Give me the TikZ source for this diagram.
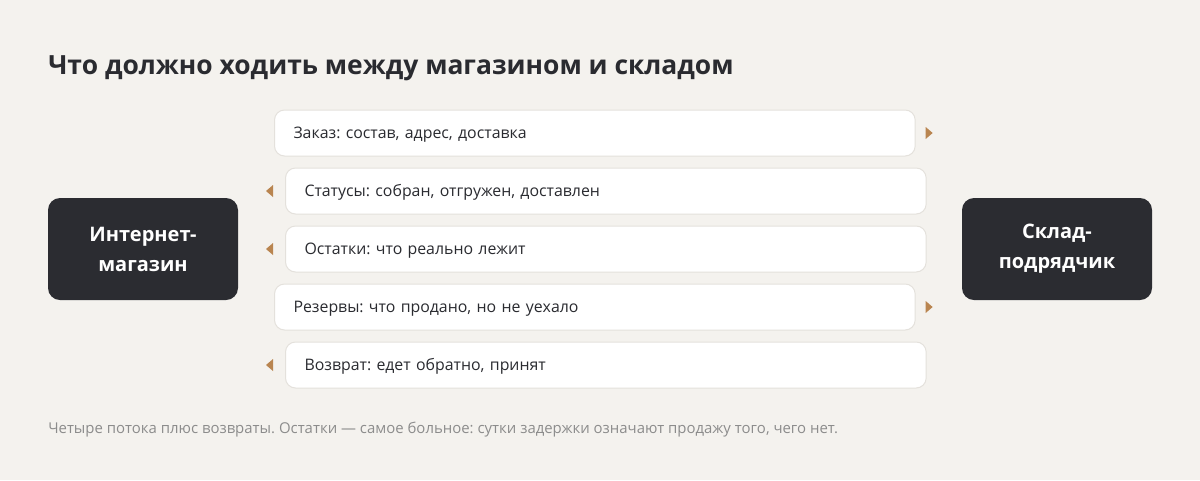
\documentclass[tikz,border=0pt]{standalone}
\usepackage{fontspec}
\setmainfont{Open Sans}
\usetikzlibrary{calc}
\definecolor{bgc}{HTML}{F4F2EE}
\definecolor{darkc}{HTML}{2B2C31}
\definecolor{textc}{HTML}{2A2B30}
\definecolor{linec}{HTML}{E4E1DC}
\definecolor{arrowc}{HTML}{B98550}
\definecolor{notec}{HTML}{8C8C8C}
\tikzset{
  party/.style={draw=none, fill=darkc, rounded corners=9pt, minimum width=142.5pt, minimum height=76.5pt, align=center, text=white, font=\fontsize{15}{22.5}\selectfont\bfseries, inner sep=0pt},
  flow/.style={draw=linec, line width=0.75pt, fill=white, rounded corners=7.5pt, text width=452pt, inner xsep=14.25pt, text height=9pt, text depth=1pt, minimum height=34.5pt, align=left, anchor=west, text=textc, font=\fontsize{11.9}{14}\selectfont},
  tip/.style={fill=arrowc, draw=none}
}
\begin{document}
\frenchspacing
\begin{tikzpicture}[x=0.75pt, y=-0.75pt]
\fill[bgc] (0,0) rectangle (1200,480);
\useasboundingbox (0,0) rectangle (1200,480);
\node[anchor=base west, inner sep=0pt, text=textc, font=\fontsize{19.8}{24}\selectfont\bfseries] (title) at (48,74) {Что должно ходить между магазином и складом};
\node[party] (shop) at (143,249) {Интернет-\\магазин};
\node[party] (wh) at (1057,249) {Склад-\\подрядчик};
\node[flow] (f1) at (274,133) {Заказ: состав, адрес, доставка};
\node[flow] (f2) at (285,191) {Статусы: собран, отгружен, доставлен};
\node[flow] (f3) at (285,249) {Остатки: что реально лежит};
\node[flow] (f4) at (274,307) {Резервы: что продано, но не уехало};
\node[flow] (f5) at (285,365) {Возврат: едет обратно, принят};
\fill[tip] ($(f1.east)+(10,-6)$) -- ++(7,6) -- ++(-7,6) -- cycle;
\fill[tip] ($(f4.east)+(10,-6)$) -- ++(7,6) -- ++(-7,6) -- cycle;
\fill[tip] ($(f2.west)+(-12,-6)$) -- ++(-7,6) -- ++(7,6) -- cycle;
\fill[tip] ($(f3.west)+(-12,-6)$) -- ++(-7,6) -- ++(7,6) -- cycle;
\fill[tip] ($(f5.west)+(-12,-6)$) -- ++(-7,6) -- ++(7,6) -- cycle;
\node[anchor=base west, inner sep=0pt, text=notec, font=\fontsize{11.2}{13}\selectfont] (note) at (48,433) {Четыре потока плюс возвраты. Остатки — самое больное: сутки задержки означают продажу того, чего нет.};
\end{tikzpicture}
\end{document}
